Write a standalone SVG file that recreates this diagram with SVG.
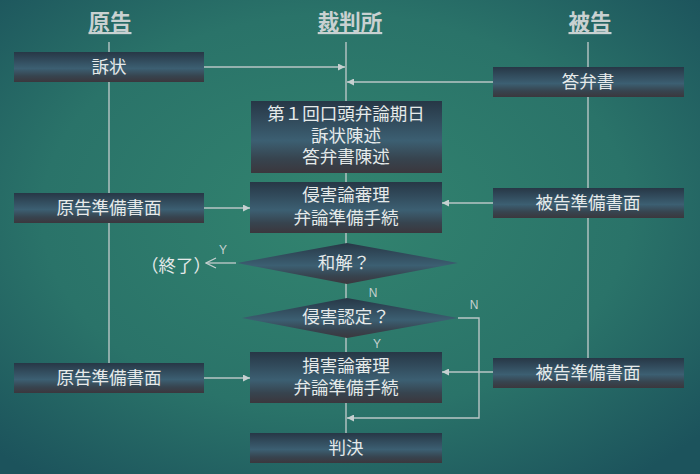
<svg xmlns="http://www.w3.org/2000/svg" width="700" height="474" viewBox="0 0 700 474">
<defs>
<radialGradient id="bg" cx="48%" cy="45%" r="70%">
<stop offset="0" stop-color="#32846f"/>
<stop offset="0.6" stop-color="#2a7369"/>
<stop offset="1" stop-color="#1c535c"/>
</radialGradient>
<linearGradient id="box" x1="0" y1="0" x2="0" y2="1">
<stop offset="0" stop-color="#273746"/>
<stop offset="0.55" stop-color="#3c5f72"/>
<stop offset="0.8" stop-color="#37444f"/>
<stop offset="1" stop-color="#3b373d"/>
</linearGradient>
<marker id="ah" viewBox="0 0 10 10" refX="10" refY="5" markerWidth="7" markerHeight="7" markerUnits="userSpaceOnUse" orient="auto">
<path d="M0,0 L10,5 L0,10 z" fill="#c6d0d0"/>
</marker>
<marker id="open" viewBox="0 0 12 12" refX="11" refY="6" markerWidth="12" markerHeight="12" markerUnits="userSpaceOnUse" orient="auto">
<path d="M1,1 L11,6 L1,11" fill="none" stroke="#c6d0d0" stroke-width="1.2"/>
</marker>
</defs>
<style>
.hd{font-family:"Noto Sans CJK JP","Noto Sans",sans-serif;font-size:21.5px;font-weight:bold;fill:#c9d1d1;text-anchor:middle;text-decoration:underline}
.t{font-family:"Noto Sans CJK JP","Noto Sans",sans-serif;font-size:17.5px;fill:#e6eaea;text-anchor:middle}
.s{font-family:"Liberation Sans","Noto Sans",sans-serif;font-size:12px;fill:#c6d0d0;text-anchor:middle}
.b{fill:url(#box)}
.ln{stroke:#b9c6c6;stroke-width:1.4;fill:none}
</style>
<rect width="700" height="474" fill="url(#bg)"/>

<g id="headers">
<text class="hd" x="110" y="30">原告</text>
<text class="hd" x="350" y="30">裁判所</text>
<text class="hd" x="590" y="30">被告</text>
</g>

<g id="connectors">
<line class="ln" x1="109" y1="42" x2="109" y2="363"/>
<line class="ln" x1="588" y1="42" x2="588" y2="358"/>
<line class="ln" x1="346" y1="42" x2="346" y2="433"/>
<line class="ln" x1="204" y1="67" x2="345" y2="67" marker-end="url(#ah)"/>
<line class="ln" x1="493" y1="82" x2="347" y2="82" marker-end="url(#ah)"/>
<line class="ln" x1="204" y1="208" x2="250" y2="208" marker-end="url(#ah)"/>
<line class="ln" x1="493" y1="203" x2="442" y2="203" marker-end="url(#ah)"/>
<line class="ln" x1="236" y1="263" x2="206" y2="263" marker-end="url(#open)"/>
<polyline class="ln" points="458,318 479,318 479,418 347,418" marker-end="url(#ah)"/>
<line class="ln" x1="204" y1="378" x2="250" y2="378" marker-end="url(#ah)"/>
<line class="ln" x1="493" y1="372" x2="442" y2="372" marker-end="url(#ah)"/>
<text class="s" x="223" y="254">Y</text>
<text class="s" x="373" y="297">N</text>
<text class="s" x="474" y="309">N</text>
<text class="s" x="377" y="348">Y</text>
</g>

<g id="sojo">
<rect class="b" x="14" y="52" width="190" height="30"/>
<text class="t" x="109" y="73">訴状</text>
</g>
<g id="tobensho">
<rect class="b" x="493" y="67" width="191" height="30"/>
<text class="t" x="588" y="88">答弁書</text>
</g>
<g id="kogen">
<rect class="b" x="251" y="101" width="191" height="72"/>
<text class="t" x="346" y="120">第１回口頭弁論期日</text>
<text class="t" x="346" y="141.5">訴状陳述</text>
<text class="t" x="346" y="163">答弁書陳述</text>
</g>
<g id="genkoku1">
<rect class="b" x="14" y="193" width="190" height="30"/>
<text class="t" x="109" y="214">原告準備書面</text>
</g>
<g id="hikoku1">
<rect class="b" x="493" y="188" width="191" height="30"/>
<text class="t" x="588" y="209">被告準備書面</text>
</g>
<g id="shingai">
<rect class="b" x="250" y="182" width="192" height="51"/>
<text class="t" x="346" y="201">侵害論審理</text>
<text class="t" x="346" y="224">弁論準備手続</text>
</g>
<g id="wakai">
<polygon class="b" points="237,263 347,243 458,263 347,284"/>
<text class="t" x="344" y="269">和解？</text>
</g>
<g id="shuryo">
<text class="t" x="176" y="272">（終了）</text>
</g>
<g id="nintei">
<polygon class="b" points="242,318 347,298 458,318 347,338"/>
<text class="t" x="346" y="323">侵害認定？</text>
</g>
<g id="genkoku2">
<rect class="b" x="14" y="363" width="190" height="30"/>
<text class="t" x="109" y="384">原告準備書面</text>
</g>
<g id="hikoku2">
<rect class="b" x="493" y="358" width="191" height="30"/>
<text class="t" x="588" y="379">被告準備書面</text>
</g>
<g id="songai">
<rect class="b" x="250" y="352" width="192" height="51"/>
<text class="t" x="346" y="372">損害論審理</text>
<text class="t" x="346" y="394">弁論準備手続</text>
</g>
<g id="hanketsu">
<rect class="b" x="250" y="433" width="192" height="30"/>
<text class="t" x="346" y="454">判決</text>
</g>
</svg>
